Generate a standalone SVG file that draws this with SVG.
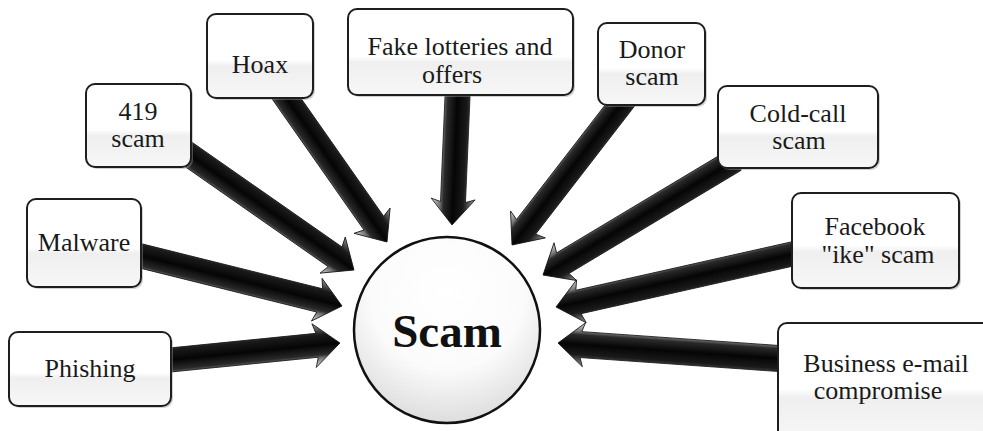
<svg xmlns="http://www.w3.org/2000/svg" width="983" height="431" viewBox="0 0 983 431">
<style>
.box{fill:url(#boxg);stroke:#1e1e1e;stroke-width:2}
.shd{fill:#9a9a9a;opacity:0.45}
.arr{fill:url(#arrg);stroke:#111;stroke-width:0.8;stroke-linejoin:round}
</style>
<defs>
<linearGradient id="boxg" x1="0" y1="0" x2="0" y2="1">
<stop offset="0" stop-color="#ffffff"/>
<stop offset="0.55" stop-color="#ffffff"/>
<stop offset="0.62" stop-color="#efefef"/>
<stop offset="1" stop-color="#f7f7f7"/>
</linearGradient>
<linearGradient id="arrg" x1="0" y1="0" x2="0" y2="1">
<stop offset="0" stop-color="#9a9a9a"/>
<stop offset="0.2" stop-color="#3a3a3a"/>
<stop offset="0.27" stop-color="#1a1a1a"/>
<stop offset="0.5" stop-color="#050505"/>
<stop offset="0.72" stop-color="#2a2a2a"/>
<stop offset="0.8" stop-color="#777"/>
<stop offset="1" stop-color="#dcdcdc"/>
</linearGradient>
<radialGradient id="circg" cx="0.5" cy="0.3" r="0.75">
<stop offset="0" stop-color="#ffffff"/>
<stop offset="0.55" stop-color="#fbfbfb"/>
<stop offset="1" stop-color="#d8d8d8"/>
</radialGradient>
</defs>
<rect width="983" height="431" fill="#ffffff"/>

<g id="connectors">
<path class="arr" transform="translate(150,362) rotate(-5.71)" d="M0,-12 L167.9,-12 L164.9,-22 L190.9,0 L164.9,22 L167.9,12 L0,12 Z"/>
<path class="arr" transform="translate(125,252) rotate(13.97)" d="M0,-12 L200.6,-12 L197.6,-22 L223.6,0 L197.6,22 L200.6,12 L0,12 Z"/>
<path class="arr" transform="translate(175,145) rotate(34.93)" d="M0,-12 L195.3,-12 L192.3,-22 L218.3,0 L192.3,22 L195.3,12 L0,12 Z"/>
<path class="arr" transform="translate(277,85) rotate(54.98)" d="M0,-12 L168.7,-12 L165.7,-22 L191.7,0 L165.7,22 L168.7,12 L0,12 Z"/>
<path class="arr" transform="translate(458,85) rotate(92.45)" d="M0,-12.5 L117.1,-12.5 L114.1,-22 L140.1,0 L114.1,22 L117.1,12.5 L0,12.5 Z"/>
<path class="arr" transform="translate(628,95) rotate(127.71)" d="M0,-12 L166.6,-12 L163.6,-22 L189.6,0 L163.6,22 L166.6,12 L0,12 Z"/>
<path class="arr" transform="translate(735,160) rotate(149.07)" d="M0,-12 L200.8,-12 L197.8,-22 L223.8,0 L197.8,22 L200.8,12 L0,12 Z"/>
<path class="arr" transform="translate(810,250) rotate(167.35)" d="M0,-12 L237.3,-12 L234.3,-22 L260.3,0 L234.3,22 L237.3,12 L0,12 Z"/>
<path class="arr" transform="translate(800,360) rotate(184.02)" d="M0,-13 L219.6,-13 L216.6,-22 L242.6,0 L216.6,22 L219.6,13 L0,13 Z"/>
</g>

<g id="scam">
<circle cx="447" cy="330" r="93" fill="url(#circg)" stroke="#111" stroke-width="2.5"/>
<text x="447" y="347" font-family="'Liberation Serif', 'Times New Roman', serif" font-size="47" font-weight="bold" fill="#111" text-anchor="middle">Scam</text>
</g>

<g font-family="'Liberation Serif', 'Times New Roman', serif" font-size="26" fill="#1a1a1a" text-anchor="middle">
<g id="phishing">
<rect class="shd" x="11" y="334" width="162" height="74" rx="9"/>
<rect class="box" x="9" y="332" width="162" height="74" rx="9"/>
<text x="90" y="377">Phishing</text>
</g>
<g id="malware">
<rect class="shd" x="29" y="201" width="114" height="88" rx="9"/>
<rect class="box" x="27" y="199" width="114" height="88" rx="9"/>
<text x="84" y="251">Malware</text>
</g>
<g id="scam419">
<rect class="shd" x="88" y="86" width="105" height="83" rx="9"/>
<rect class="box" x="86" y="84" width="105" height="83" rx="9"/>
<text x="138" y="120">419</text>
<text x="138" y="147">scam</text>
</g>
<g id="hoax">
<rect class="shd" x="209" y="16" width="106" height="84" rx="9"/>
<rect class="box" x="207" y="14" width="106" height="84" rx="9"/>
<text x="260" y="73">Hoax</text>
</g>
<g id="lotteries">
<rect class="shd" x="350" y="11" width="225" height="86" rx="9"/>
<rect class="box" x="348" y="9" width="225" height="86" rx="9"/>
<text x="460" y="55">Fake lotteries and</text>
<text x="452" y="83">offers</text>
</g>
<g id="donor">
<rect class="shd" x="600" y="25" width="107" height="82" rx="9"/>
<rect class="box" x="598" y="23" width="107" height="82" rx="9"/>
<text x="652" y="58">Donor</text>
<text x="652" y="85">scam</text>
</g>
<g id="coldcall">
<rect class="shd" x="720" y="88" width="160" height="82" rx="9"/>
<rect class="box" x="718" y="86" width="160" height="82" rx="9"/>
<text x="798" y="122">Cold-call</text>
<text x="799" y="149">scam</text>
</g>
<g id="facebook">
<rect class="shd" x="794" y="195" width="167" height="95" rx="9"/>
<rect class="box" x="792" y="193" width="167" height="95" rx="9"/>
<text x="875" y="235">Facebook</text>
<text x="878" y="263">"ike" scam</text>
</g>
<g id="business">
<rect class="shd" x="780" y="325" width="215" height="120" rx="9"/>
<rect class="box" x="778" y="323" width="215" height="120" rx="9"/>
<text x="886" y="372">Business e-mail</text>
<text x="878" y="399">compromise</text>
</g>
</g>
</svg>
